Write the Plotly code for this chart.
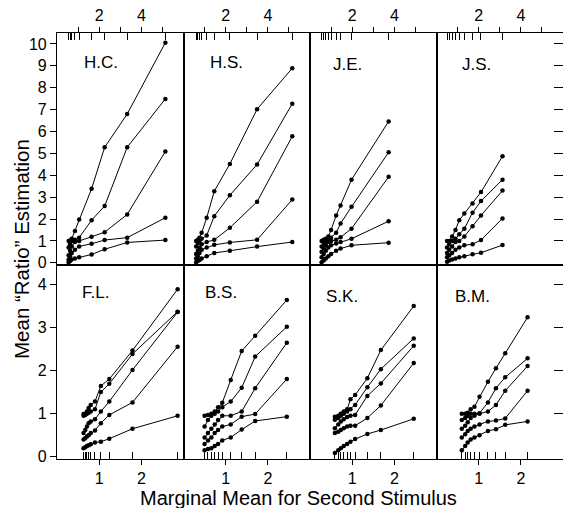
import plotly.graph_objects as go

# ---------------- data ----------------
panel_names = ["H.C.", "H.S.", "J.E.", "J.S.", "F.L.", "B.S.", "S.K.", "B.M."]

hc_x = [0.55, 0.62, 0.7, 0.85, 1.05, 1.64, 2.26, 3.33, 5.14]
hc_y = [
    [1.0, 1.02, 1.1, 1.45, 1.98, 3.38, 5.28, 6.8, 10.06],
    [0.7, 0.85, 1.0, 1.05, 1.15, 1.95, 2.59, 5.28, 7.49],
    [0.35, 0.55, 0.75, 0.95, 1.0, 1.19, 1.40, 2.21, 5.09],
    [0.15, 0.3, 0.45, 0.6, 0.75, 0.87, 1.04, 1.15, 2.06],
    [0.02, 0.08, 0.15, 0.2, 0.25, 0.38, 0.62, 0.93, 1.04],
]

hs_x = [0.6, 0.68, 0.76, 0.86, 1.1, 1.46, 2.2, 3.49, 5.16]
hs_y = [
    [1.0, 1.05, 1.15, 1.37, 2.06, 3.27, 4.52, 7.02, 8.89],
    [0.75, 0.9, 1.0, 1.1, 1.25, 2.13, 3.09, 4.49, 7.27],
    [0.4, 0.55, 0.7, 0.85, 0.95, 1.05, 1.6, 2.79, 5.78],
    [0.2, 0.3, 0.45, 0.6, 0.7, 0.82, 0.93, 1.05, 2.89],
    [0.02, 0.08, 0.13, 0.2, 0.3, 0.45, 0.55, 0.74, 0.95],
]

je_x = [0.55, 0.65, 0.75, 0.87, 1.0, 1.24, 1.45, 1.97, 3.73]
je_y = [
    [1.0, 1.05, 1.1, 1.2, 1.5, 2.16, 2.62, 3.8, 6.46],
    [0.75, 0.9, 1.0, 1.05, 1.15, 1.37, 1.8, 2.56, 5.05],
    [0.5, 0.65, 0.8, 0.95, 1.0, 1.05, 1.17, 1.56, 3.93],
    [0.25, 0.4, 0.55, 0.7, 0.8, 0.88, 0.95, 1.1, 1.9],
    [0.02, 0.1, 0.2, 0.3, 0.4, 0.55, 0.65, 0.8, 0.92],
]

js_x = [0.5, 0.6, 0.74, 0.9, 1.08, 1.32, 1.71, 2.11, 3.13]
js_y = [
    [1.0, 1.0, 1.2, 1.5, 1.95, 2.25, 2.71, 3.23, 4.87],
    [0.7, 0.85, 1.0, 1.1, 1.3, 1.56, 2.29, 2.82, 3.8],
    [0.45, 0.6, 0.75, 0.95, 1.0, 1.2, 1.67, 2.16, 3.30],
    [0.25, 0.35, 0.45, 0.6, 0.7, 0.8, 0.85, 1.04, 2.03],
    [0.05, 0.1, 0.15, 0.2, 0.25, 0.3, 0.39, 0.46, 0.81],
]

fl_x = [0.63, 0.67, 0.71, 0.75, 0.8, 0.9, 1.04, 1.24, 1.79, 2.86]
fl_y = [
    [0.99, 1.0, 1.05, 1.13, 1.2, 1.28, 1.64, 1.80, 2.46, 3.88],
    [0.95, 0.97, 1.0, 1.02, 1.05, 1.1, 1.5, 1.69, 2.38, 3.36],
    [0.55, 0.62, 0.7, 0.78, 0.82, 0.87, 1.05, 1.28, 2.01, 3.35],
    [0.4, 0.43, 0.47, 0.5, 0.55, 0.61, 0.78, 0.97, 1.26, 2.55],
    [0.2, 0.22, 0.25, 0.27, 0.29, 0.33, 0.35, 0.42, 0.65, 0.95],
]

bs_x = [0.5, 0.58, 0.66, 0.74, 0.82, 0.92, 1.12, 1.38, 1.7, 2.45]
bs_y = [
    [0.95, 0.97, 1.0, 1.05, 1.15, 1.25, 1.78, 2.45, 2.8, 3.63],
    [0.7, 0.85, 0.95, 1.0, 1.05, 1.15, 1.28, 1.6, 2.32, 3.01],
    [0.45, 0.55, 0.65, 0.75, 0.85, 0.95, 0.95, 1.05, 1.59, 2.64],
    [0.3, 0.38, 0.45, 0.55, 0.62, 0.7, 0.75, 0.93, 0.99, 1.8],
    [0.15, 0.18, 0.2, 0.25, 0.3, 0.38, 0.45, 0.63, 0.83, 0.93],
]

sk_x = [0.59, 0.67, 0.73, 0.8, 0.88, 0.96, 1.07, 1.36, 1.68, 2.46]
sk_y = [
    [0.93, 0.95, 1.0, 1.05, 1.1, 1.33, 1.43, 1.82, 2.47, 3.49],
    [0.86, 0.9, 0.95, 1.0, 1.05, 1.1, 1.2, 1.61, 2.03, 2.74],
    [0.66, 0.75, 0.82, 0.87, 0.92, 0.95, 0.97, 1.41, 1.7, 2.57],
    [0.55, 0.58, 0.62, 0.66, 0.7, 0.72, 0.72, 0.9, 1.19, 2.17],
    [0.09, 0.15, 0.2, 0.25, 0.3, 0.35, 0.41, 0.53, 0.62, 0.88],
]

bm_x = [0.6, 0.68, 0.74, 0.81, 0.9, 1.02, 1.22, 1.41, 1.63, 2.16]
bm_y = [
    [1.0, 1.0, 1.02, 1.1, 1.16, 1.39, 1.74, 2.05, 2.4, 3.23],
    [0.85, 0.9, 0.95, 1.0, 1.0, 1.01, 1.26, 1.59, 1.84, 2.28],
    [0.65, 0.72, 0.8, 0.9, 0.95, 1.0, 1.05, 1.2, 1.53, 2.1],
    [0.45, 0.52, 0.6, 0.65, 0.7, 0.75, 0.82, 0.84, 0.89, 1.53],
    [0.15, 0.25, 0.33, 0.4, 0.45, 0.5, 0.6, 0.64, 0.74, 0.82],
]

panel_x = [hc_x, hs_x, je_x, js_x, fl_x, bs_x, sk_x, bm_x]
panel_y = [hc_y, hs_y, je_y, js_y, fl_y, bs_y, sk_y, bm_y]

top_y_ticks = list(range(0, 11))
bot_y_ticks = list(range(0, 5))
top_x_ticks = [1, 2, 3, 4, 5]
top_x_text = ["", "2", "", "4", ""]
bot_x_ticks = [1, 2]
bot_x_text = ["1", "2"]

# ---------------- layout geometry ----------------
W, H = 563, 508
ML, MR, MT, MB = 57, 0, 33, 49
PW = W - ML - MR
PH = H - MT - MB
split = (459 - 265) / PH  # boundary between rows (paper)

FONT = "Liberation Sans, Arial, sans-serif"
fig = go.Figure()
layout = {}
annotations = []

label_dx = [25, 24, 21, 23, 23, 19, 14, 16]
label_top = [51, 51, 53, 53, 281, 281, 285, 285]

for i in range(8):
    row, col = divmod(i, 4)
    n = i + 1
    on = 8 + n
    xs = panel_x[i]
    for ys in panel_y[i]:
        fig.add_trace(go.Scatter(
            x=xs, y=ys, mode="lines+markers",
            xaxis=f"x{n}", yaxis=f"y{n}",
            line=dict(color="black", width=1),
            marker=dict(color="black", size=4.5),
            showlegend=False, hoverinfo="skip"))
    # invisible trace so the stimulus-position tick axis is drawn
    fig.add_trace(go.Scatter(
        x=xs, y=[None] * len(xs), mode="markers",
        xaxis=f"x{on}", yaxis=f"y{n}", showlegend=False, hoverinfo="skip"))
    xdom = [col / 4, (col + 1) / 4]
    if row == 0:
        ydom = [split, 1]
        yr = [-0.1, 10.5]
        xr = [0, 6]
        yticks = top_y_ticks
        xt, xtt, side = top_x_ticks, top_x_text, "top"
    else:
        ydom = [0, split]
        yr = [-0.05, 4.44]
        xr = [0, 3]
        yticks = bot_y_ticks
        xt, xtt, side = bot_x_ticks, bot_x_text, "bottom"
    xa = "xaxis" if n == 1 else f"xaxis{n}"
    ya = "yaxis" if n == 1 else f"yaxis{n}"
    layout[xa] = dict(domain=xdom, anchor=f"y{n}", range=xr, side=side,
                      tickvals=xt, ticktext=xtt, ticks="outside", ticklen=5,
                      tickwidth=1.2, tickcolor="black",
                      showline=True, mirror=True, linecolor="black", linewidth=1.1,
                      showgrid=False, zeroline=False,
                      tickfont=dict(family=FONT, size=16, color="black"))
    layout[ya] = dict(domain=ydom, anchor=f"x{n}", range=yr,
                      tickvals=yticks if col == 0 else [],
                      ticks="outside" if col == 0 else "", ticklen=6,
                      tickwidth=1.2, tickcolor="black",
                      showticklabels=(col == 0),
                      showline=True, mirror=True, linecolor="black", linewidth=1.1,
                      showgrid=False, zeroline=False,
                      tickfont=dict(family=FONT, size=16, color="black"))
    # inside ticks at the stimulus positions
    layout[f"xaxis{on}"] = dict(overlaying=f"x{n}", anchor=f"y{n}", range=xr, side=side,
                               tickvals=xs, ticks="inside", ticklen=7, tickwidth=1,
                               tickcolor="black", showticklabels=False,
                               showline=False, showgrid=False, zeroline=False)
    # label
    annotations.append(dict(
        text=panel_names[i], xref="paper", yref="paper",
        x=(col * PW / 4 + label_dx[i]) / PW, y=(H - MB - label_top[i]) / PH,
        xanchor="left", yanchor="top", showarrow=False,
        font=dict(family=FONT, size=17, color="black")))

# right-hand inside ticks
layout["yaxis17"] = dict(overlaying="y4", anchor="x4", side="right", range=[-0.1, 10.5],
                         tickvals=list(range(1, 11)), ticks="inside", ticklen=9,
                         tickwidth=1.2, tickcolor="black", showticklabels=False,
                         showline=False, showgrid=False, zeroline=False)
layout["yaxis18"] = dict(overlaying="y8", anchor="x8", side="right", range=[-0.05, 4.44],
                         tickvals=list(range(1, 5)), ticks="inside", ticklen=9,
                         tickwidth=1.2, tickcolor="black", showticklabels=False,
                         showline=False, showgrid=False, zeroline=False)
fig.add_trace(go.Scatter(x=[None], y=[None], xaxis="x4", yaxis="y17",
                         showlegend=False, hoverinfo="skip"))
fig.add_trace(go.Scatter(x=[None], y=[None], xaxis="x8", yaxis="y18",
                         showlegend=False, hoverinfo="skip"))

annotations.append(dict(
    text="Mean \u201cRatio\u201d Estimation", xref="paper", yref="paper",
    x=(21 - ML) / PW, y=(H - MB - 249) / PH, textangle=-90,
    xanchor="center", yanchor="middle", showarrow=False,
    font=dict(family=FONT, size=20.5, color="black")))
annotations.append(dict(
    text="Marginal Mean for Second Stimulus", xref="paper", yref="paper",
    x=(298 - ML) / PW, y=(H - MB - 498) / PH,
    xanchor="center", yanchor="middle", showarrow=False,
    font=dict(family=FONT, size=20, color="black")))

fig.update_layout(**layout)
fig.update_layout(width=W, height=H, margin=dict(l=ML, r=MR, t=MT, b=MB),
                  paper_bgcolor="white", plot_bgcolor="white",
                  annotations=annotations, showlegend=False)

fig.write_html("out.html")
